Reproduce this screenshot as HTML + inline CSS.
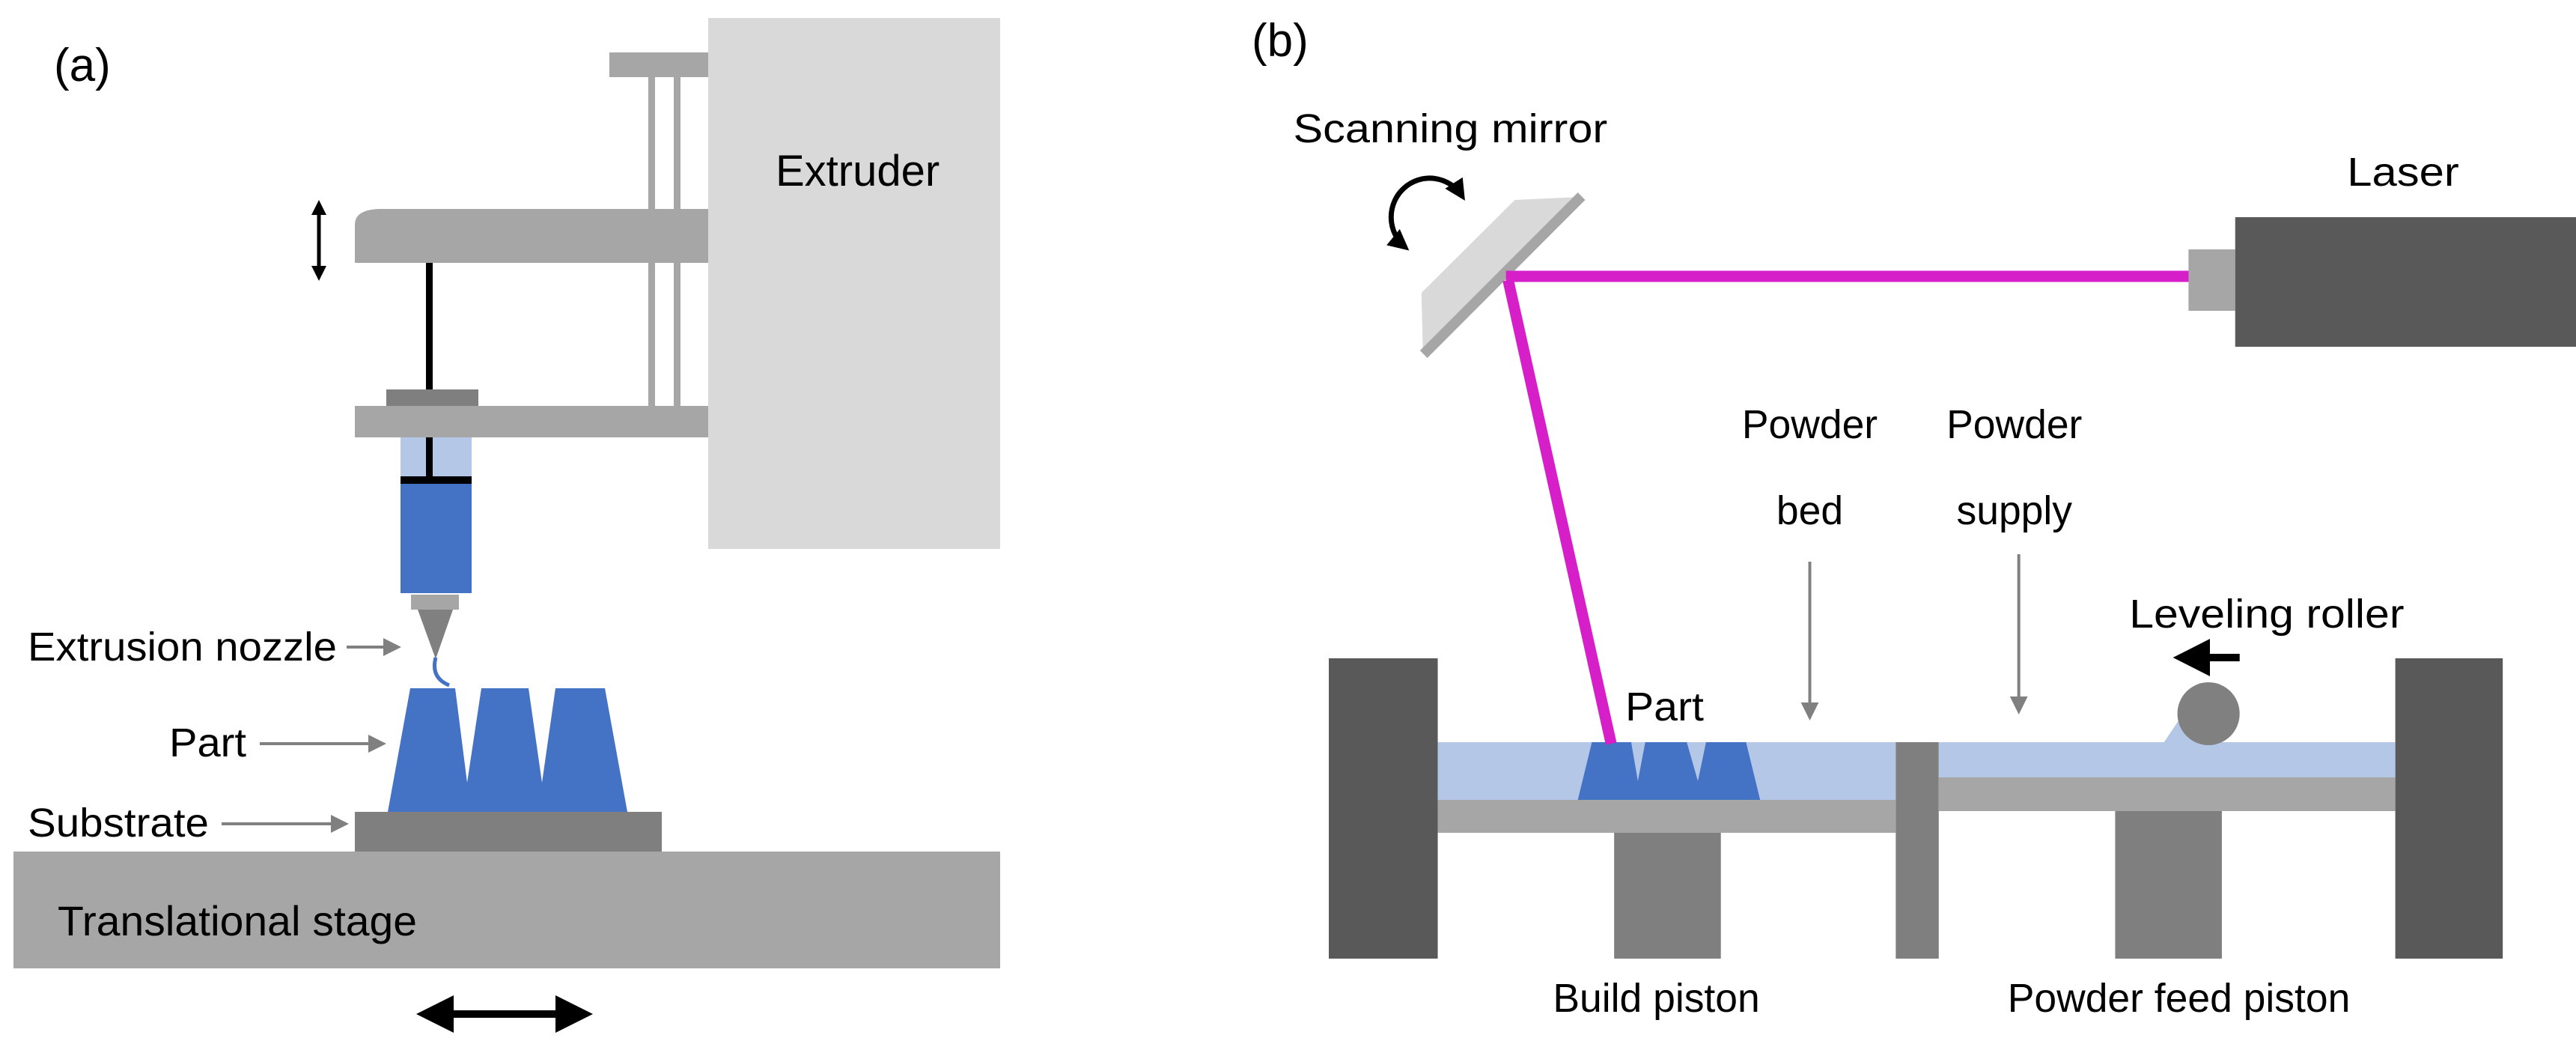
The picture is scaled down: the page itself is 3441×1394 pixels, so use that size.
<!DOCTYPE html>
<html><head><meta charset="utf-8"><style>
html,body{margin:0;padding:0;background:#fff}
svg{display:block}
text{font-family:"Liberation Sans",Arial,sans-serif;fill:#000}
</style></head><body>
<svg width="3441" height="1394" viewBox="0 0 3441 1394" xmlns="http://www.w3.org/2000/svg">
<defs>
<marker id="ga" markerWidth="6" markerHeight="6" refX="5" refY="3" orient="auto" markerUnits="strokeWidth"><path d="M0,0 L6,3 L0,6 Z" fill="#808080"/></marker>
<marker id="ba" markerWidth="4" markerHeight="4" refX="3" refY="2" orient="auto-start-reverse" markerUnits="strokeWidth"><path d="M0,0 L4,2 L0,4 Z" fill="#000"/></marker>
<marker id="bt" markerWidth="5" markerHeight="5" refX="4" refY="2.5" orient="auto-start-reverse" markerUnits="strokeWidth"><path d="M0,0 L5,2.5 L0,5 Z" fill="#000"/></marker>
</defs>

<!-- Panel (a) -->
<text x="72" y="108" font-size="62">(a)</text>
<rect x="946" y="24" width="390" height="709" fill="#d9d9d9"/>
<text x="1036" y="248" font-size="58">Extruder</text>
<rect x="814" y="70" width="132" height="33" fill="#a6a6a6"/>
<rect x="866" y="103" width="9" height="439" fill="#a6a6a6"/>
<rect x="900" y="103" width="9" height="439" fill="#a6a6a6"/>
<path d="M474,351 L474,300 Q474,279 510,279 L946,279 L946,351 Z" fill="#a6a6a6"/>
<line x1="426" y1="272" x2="426" y2="370" stroke="#000" stroke-width="5" marker-start="url(#ba)" marker-end="url(#ba)"/>
<rect x="569" y="351" width="9" height="176" fill="#000"/>
<rect x="516" y="520" width="123" height="22" fill="#7f7f7f"/>
<rect x="474" y="542" width="472" height="42" fill="#a6a6a6"/>
<rect x="535" y="584" width="95" height="59" fill="#b4c7e7"/>
<rect x="569" y="584" width="9" height="56" fill="#000"/>
<rect x="535" y="636" width="95" height="10" fill="#000"/>
<rect x="535" y="646" width="95" height="146" fill="#4472c4"/>
<rect x="549" y="794" width="64" height="20" fill="#a6a6a6"/>
<polygon points="558,814 605,814 582,880" fill="#808080"/>
<path d="M582,878 Q575,905 600,915" stroke="#4472c4" stroke-width="5" fill="none"/>
<polygon points="518,1084 548,919 608,919 624,1045 643,919 706,919 724,1045 742,919 808,919 838,1084" fill="#4472c4"/>
<rect x="474" y="1084" width="410" height="53" fill="#7f7f7f"/>
<rect x="18" y="1137" width="1318" height="156" fill="#a6a6a6"/>
<text x="77" y="1249" font-size="56" textLength="480" lengthAdjust="spacingAndGlyphs">Translational stage</text>
<line x1="566" y1="1354" x2="782" y2="1354" stroke="#000" stroke-width="10" marker-start="url(#bt)" marker-end="url(#bt)"/>
<text x="37" y="882" font-size="54" textLength="413" lengthAdjust="spacingAndGlyphs">Extrusion nozzle</text>
<line x1="463" y1="864" x2="532" y2="864" stroke="#808080" stroke-width="4" marker-end="url(#ga)"/>
<text x="226" y="1010" font-size="54" textLength="103" lengthAdjust="spacingAndGlyphs">Part</text>
<line x1="347" y1="993" x2="512" y2="993" stroke="#808080" stroke-width="4" marker-end="url(#ga)"/>
<text x="37" y="1117" font-size="54" textLength="242" lengthAdjust="spacingAndGlyphs">Substrate</text>
<line x1="296" y1="1100" x2="462" y2="1100" stroke="#808080" stroke-width="4" marker-end="url(#ga)"/>

<!-- Panel (b) -->
<text x="1672" y="75" font-size="62">(b)</text>
<g transform="translate(1775,0) scale(0.99,1) translate(-1775,0)">
<text x="1727" y="190" font-size="54" textLength="424" lengthAdjust="spacingAndGlyphs">Scanning mirror</text>
<path d="M1955,262 A52,52 0 1 0 1878,330" stroke="#000" stroke-width="7" fill="none" marker-start="url(#ba)" marker-end="url(#ba)"/>
<polygon points="1900,391 2026,267 2112,263 1902,472" fill="#d9d9d9"/>
<line x1="1903" y1="473" x2="2116" y2="262" stroke="#a6a6a6" stroke-width="14"/>
<line x1="2014" y1="369" x2="2936" y2="369" stroke="#d61fc9" stroke-width="15"/>
<rect x="2935" y="333" width="63" height="82" fill="#a6a6a6"/>
<rect x="2998" y="290" width="470" height="173" fill="#595959"/>
<text x="3149" y="248" font-size="54" textLength="151" lengthAdjust="spacingAndGlyphs">Laser</text>

<rect x="1775" y="879" width="147" height="401" fill="#595959"/>
<rect x="3214" y="879" width="145" height="401" fill="#595959"/>
<rect x="1922" y="991" width="618" height="77" fill="#b4c7e7"/>
<rect x="1922" y="1068" width="618" height="44" fill="#a6a6a6"/>
<rect x="2160" y="1112" width="144" height="168" fill="#7f7f7f"/>
<rect x="2540" y="991" width="58" height="289" fill="#7f7f7f"/>
<polygon points="2598,991 2902,991 2925,957 2960,957 2960,991 3214,991 3214,1038 2598,1038" fill="#b4c7e7"/>
<rect x="2598" y="1038" width="616" height="45" fill="#a6a6a6"/>
<rect x="2836" y="1083" width="144" height="197" fill="#7f7f7f"/>
<circle cx="2962" cy="953" r="42" fill="#808080"/>
<line x1="3004" y1="878" x2="2924" y2="878" stroke="#000" stroke-width="10" marker-end="url(#bt)"/>
<polygon points="2111,1068 2130,991 2183,991 2192,1043 2202,991 2258,991 2273,1043 2284,991 2338,991 2357,1068" fill="#4472c4"/>
<line x1="2017" y1="374" x2="2156" y2="993" stroke="#d61fc9" stroke-width="15"/>
<text x="2175" y="962" font-size="54" textLength="106" lengthAdjust="spacingAndGlyphs">Part</text>
<text x="2424" y="585" font-size="54" text-anchor="middle">Powder</text>
<text x="2424" y="700" font-size="54" text-anchor="middle">bed</text>
<text x="2700" y="585" font-size="54" text-anchor="middle">Powder</text>
<text x="2700" y="700" font-size="54" text-anchor="middle">supply</text>
<line x1="2424" y1="750" x2="2424" y2="958" stroke="#808080" stroke-width="4" marker-end="url(#ga)"/>
<line x1="2706" y1="740" x2="2706" y2="950" stroke="#808080" stroke-width="4" marker-end="url(#ga)"/>
<text x="2855" y="838" font-size="54" textLength="371" lengthAdjust="spacingAndGlyphs">Leveling roller</text>
<text x="2217" y="1351" font-size="54" text-anchor="middle">Build piston</text>
<text x="2922" y="1351" font-size="54" text-anchor="middle">Powder feed piston</text>
</g>
</svg>
</body></html>
